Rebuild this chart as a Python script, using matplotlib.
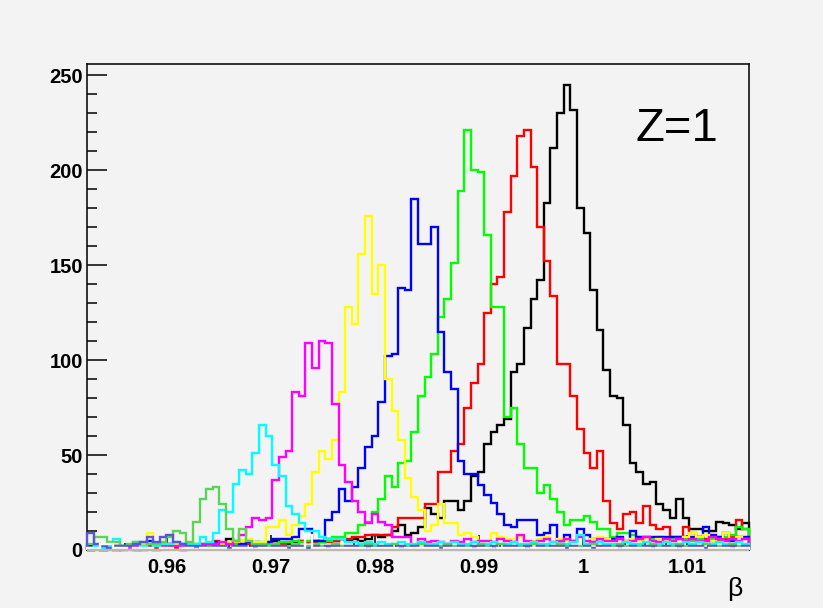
import numpy as np
import matplotlib
matplotlib.use('Agg')
import matplotlib.pyplot as plt
from matplotlib.ticker import MultipleLocator, FuncFormatter

# beta histograms for Z=1, 100 bins over the visible range
BETA_MIN = 0.95234
BETA_MAX = 1.01596
N_BINS = 100

black = [0, 1, 0, 1, 0, 1, 1, 0, 1, 1,
         0, 1, 1, 1, 0, 1, 2, 1, 2, 1,
         2, 6, 2, 2, 3, 2, 3, 2, 5, 3,
         3, 4, 5, 4, 5, 4, 6, 5, 6, 5,
         6, 5, 6, 8, 7, 8, 10, 13, 8, 9,
         12, 22, 19, 17, 26, 26, 21, 26, 39, 41,
         56, 62, 66, 69, 94, 98, 117, 132, 142, 183,
         212, 230, 245, 232, 180, 167, 137, 116, 95, 81,
         80, 66, 46, 41, 35, 36, 24, 21, 17, 27,
         17, 11, 11, 10, 10, 15, 14, 13, 11, 14]

red = [0, 1, 0, 1, 1, 0, 1, 1, 0, 2,
       1, 1, 2, 1, 1, 2, 2, 1, 2, 5,
       2, 3, 2, 5, 3, 3, 2, 4, 3, 3,
       4, 3, 5, 4, 4, 5, 4, 5, 6, 6,
       7, 7, 8, 8, 8, 8, 12, 17, 17, 17,
       17, 24, 24, 41, 41, 52, 56, 75, 88, 98,
       125, 140, 144, 178, 197, 218, 221, 202, 170, 152,
       134, 98, 98, 81, 64, 51, 43, 52, 26, 14,
       11, 19, 20, 14, 23, 13, 11, 12, 7, 7,
       12, 9, 7, 6, 5, 5, 6, 7, 16, 11]

green = [1, 2, 1, 1, 2, 1, 2, 1, 2, 1,
         2, 2, 1, 3, 2, 2, 3, 2, 2, 3,
         2, 3, 3, 2, 4, 3, 4, 3, 3, 4,
         4, 5, 4, 5, 5, 4, 5, 7, 7, 9,
         9, 13, 15, 20, 27, 39, 33, 46, 47, 62,
         81, 91, 103, 123, 132, 151, 189, 221, 200, 199,
         166, 128, 128, 70, 75, 56, 43, 43, 30, 34,
         27, 20, 13, 16, 16, 18, 15, 11, 11, 7,
         9, 9, 8, 7, 7, 6, 7, 5, 6, 6,
         6, 5, 6, 5, 6, 7, 7, 8, 12, 11]

blue = [2, 2, 1, 2, 1, 2, 2, 3, 2, 5,
        3, 2, 3, 2, 3, 3, 2, 3, 3, 4,
        3, 3, 4, 3, 4, 4, 3, 4, 6, 6,
        6, 7, 11, 11, 5, 5, 16, 20, 32, 26,
        33, 43, 54, 60, 78, 102, 103, 138, 137, 185,
        161, 161, 170, 115, 94, 85, 47, 40, 40, 34,
        29, 25, 19, 13, 12, 16, 16, 16, 8, 9,
        13, 5, 8, 5, 11, 8, 6, 6, 6, 6,
        7, 5, 10, 7, 7, 7, 7, 7, 7, 7,
        7, 7, 7, 12, 8, 7, 9, 5, 7, 7]

yellow = [1, 2, 1, 2, 2, 1, 2, 2, 3, 9,
          3, 2, 3, 3, 2, 4, 3, 3, 4, 3,
          3, 4, 4, 5, 6, 4, 4, 12, 12, 16,
          8, 13, 18, 24, 41, 52, 48, 58, 83, 128,
          119, 156, 176, 135, 150, 90, 73, 58, 38, 28,
          21, 10, 13, 24, 14, 14, 8, 9, 7, 5,
          5, 9, 7, 6, 6, 7, 5, 5, 6, 7,
          4, 6, 5, 4, 7, 5, 6, 7, 6, 5,
          6, 5, 6, 5, 6, 5, 6, 5, 5, 6,
          7, 9, 7, 8, 5, 6, 9, 6, 7, 6]

magenta = [1, 1, 2, 1, 2, 1, 1, 2, 2, 1,
           2, 2, 3, 2, 2, 3, 2, 3, 3, 3,
           4, 3, 5, 8, 12, 17, 16, 17, 37, 49,
           52, 83, 81, 109, 96, 110, 109, 77, 45, 36,
           26, 20, 14, 19, 15, 13, 7, 7, 7, 2,
           6, 4, 5, 4, 3, 5, 4, 6, 4, 5,
           5, 4, 6, 5, 4, 8, 5, 4, 5, 6,
           4, 5, 6, 5, 7, 5, 4, 6, 5, 5,
           6, 4, 5, 6, 7, 5, 4, 6, 5, 6,
           5, 6, 5, 5, 7, 6, 5, 6, 5, 6]

cyan = [1, 2, 1, 2, 6, 2, 2, 4, 2, 3,
        2, 3, 3, 4, 3, 3, 3, 7, 4, 9,
        21, 20, 35, 42, 40, 51, 66, 60, 45, 39,
        23, 19, 14, 10, 10, 7, 6, 6, 6, 4,
        4, 3, 4, 3, 4, 3, 3, 4, 3, 3,
        4, 3, 3, 4, 3, 4, 3, 3, 4, 3,
        3, 4, 3, 3, 4, 3, 3, 4, 3, 3,
        4, 3, 3, 4, 8, 3, 3, 4, 3, 3,
        3, 4, 3, 3, 4, 3, 3, 4, 3, 3,
        4, 3, 4, 3, 3, 4, 3, 3, 4, 3]

green8 = [3, 7, 7, 4, 4, 2, 3, 4, 4, 3,
          3, 4, 7, 10, 9, 4, 15, 27, 32, 33,
          24, 11, 5, 11, 5, 3, 3, 2, 3, 2,
          2, 3, 2, 2, 3, 2, 2, 3, 2, 2,
          2, 2, 3, 2, 2, 2, 3, 2, 2, 2,
          3, 2, 2, 2, 3, 2, 2, 2, 2, 3,
          2, 2, 3, 2, 2, 2, 2, 3, 2, 2,
          2, 3, 2, 2, 2, 2, 3, 2, 2, 2,
          3, 2, 2, 2, 2, 3, 2, 2, 2, 3,
          2, 2, 2, 3, 2, 2, 2, 3, 2, 2]

purple = [9, 3, 2, 1, 2, 2, 2, 3, 4, 7,
          4, 7, 8, 4, 3, 2, 2, 2, 1, 2,
          2, 1, 2, 2, 1, 2, 2, 1, 2, 2,
          1, 2, 2, 1, 2, 1, 2, 2, 1, 2,
          2, 1, 2, 1, 2, 2, 1, 2, 1, 2,
          1, 2, 2, 1, 2, 1, 2, 1, 2, 2,
          1, 2, 1, 2, 2, 1, 2, 1, 2, 1,
          2, 2, 1, 2, 1, 2, 1, 2, 2, 1,
          2, 1, 2, 1, 2, 2, 1, 2, 1, 2,
          1, 2, 2, 1, 2, 1, 2, 2, 1, 2]

white = [1, 1, 3, 3, 1, 1, 0, 1, 1, 1,
         0, 1, 1, 0, 1, 1, 0, 1, 1, 1,
         1, 0, 1, 1, 1, 0, 1, 1, 1, 1,
         0, 1, 1, 8, 1, 1, 0, 1, 1, 1,
         1, 1, 0, 1, 1, 1, 1, 0, 1, 1,
         1, 1, 1, 0, 1, 1, 1, 1, 0, 1,
         1, 0, 1, 1, 1, 1, 0, 1, 1, 1,
         1, 1, 0, 1, 1, 1, 0, 1, 1, 1,
         0, 1, 1, 1, 1, 0, 1, 1, 1, 0,
         1, 1, 1, 0, 1, 1, 1, 0, 1, 1]

grey = [0] * N_BINS

# drawing order as in the ROOT canvas (last one on top)
series = [black, red, green, blue, yellow, magenta, cyan, green8, purple, white, grey]
colors = ['#000000', '#ff0000', '#00ff00', '#0000ff', '#ffff00', '#ff00ff',
          '#00ffff', '#59d454', '#5954d9', '#fefefe', '#c0b6ac']

BG = '#f3f3f3'

fig = plt.figure(figsize=(8.23, 6.08), dpi=100, facecolor=BG)
ax = fig.add_axes([0.1057, 0.0954, 0.8044, 0.7993])
ax.set_facecolor(BG)

edges = np.linspace(BETA_MIN, BETA_MAX, N_BINS + 1)
for i, (vals, c) in enumerate(zip(series, colors)):
    ax.stairs(vals, edges, color=c, linewidth=1.7, zorder=3 + i * 0.01,
              clip_on=False)

ax.set_xlim(BETA_MIN, BETA_MAX)
ax.set_ylim(0, 256)

ax.xaxis.set_major_locator(MultipleLocator(0.01))
ax.xaxis.set_minor_locator(MultipleLocator(0.002))
ax.yaxis.set_major_locator(MultipleLocator(50))
ax.yaxis.set_minor_locator(MultipleLocator(10))
ax.xaxis.set_major_formatter(FuncFormatter(lambda v, p: '%g' % round(v, 3)))

tick_font = dict(family='Liberation Sans', weight='bold', size=14.5)
ax.tick_params(axis='y', which='major', direction='in', length=14.4, width=1.1,
               pad=3, right=False)
ax.tick_params(axis='y', which='minor', direction='in', length=7.2, width=1.1,
               right=False)
ax.tick_params(axis='x', which='major', direction='in', length=10.5, width=1.1,
               pad=6, top=False)
ax.tick_params(axis='x', which='minor', direction='in', length=5, width=1.1,
               top=False)
for lab in ax.get_xticklabels() + ax.get_yticklabels():
    lab.set_fontproperties(matplotlib.font_manager.FontProperties(**tick_font))

for sp in ax.spines.values():
    sp.set_linewidth(1.2)
    sp.set_color('#111111')

fig.text(0.7716, 0.7686, 'Z=1', family='Liberation Sans', size=34,
         ha='left', va='baseline')
fig.text(0.9016, 0.0197, 'β', family='Liberation Sans', size=19,
         ha='right', va='baseline')

fig.savefig('out.png', dpi=100, facecolor=BG)
